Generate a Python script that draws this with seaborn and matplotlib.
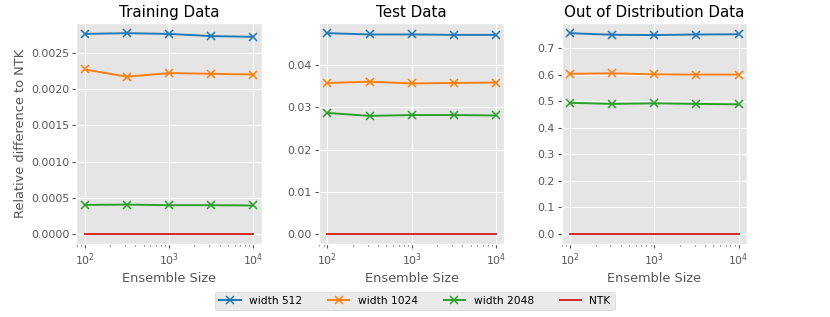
import pandas as pd
import seaborn as sns
import matplotlib.pyplot as plt
from matplotlib.ticker import MultipleLocator

# ensemble sizes (log spaced)
ensemble_sizes = [100, 316, 1000, 3162, 10000]
series_names = ['width 512', 'width 1024', 'width 2048', 'NTK']

# relative difference to NTK
train_512 = [0.00276, 0.00277, 0.00276, 0.00273, 0.00272]
train_1024 = [0.00227, 0.00217, 0.00222, 0.00221, 0.00220]
train_2048 = [0.000402, 0.000406, 0.000398, 0.000398, 0.000394]

test_512 = [0.0476, 0.0473, 0.0473, 0.0472, 0.0472]
test_1024 = [0.0358, 0.0361, 0.0357, 0.0358, 0.0359]
test_2048 = [0.0287, 0.0280, 0.0282, 0.0282, 0.0281]

ood_512 = [0.756, 0.750, 0.749, 0.751, 0.752]
ood_1024 = [0.603, 0.605, 0.601, 0.600, 0.600]
ood_2048 = [0.494, 0.490, 0.492, 0.490, 0.488]

ntk = [0.0, 0.0, 0.0, 0.0, 0.0]

panels = [
    ('Training Data', [train_512, train_1024, train_2048, ntk], None),
    ('Test Data', [test_512, test_1024, test_2048, ntk], 0.01),
    ('Out of Distribution Data', [ood_512, ood_1024, ood_2048, ntk], 0.1),
]


def to_long(values):
    rows = []
    for name, vals in zip(series_names, values):
        for n, v in zip(ensemble_sizes, vals):
            rows.append({'Ensemble Size': n, 'value': v, 'series': name})
    return pd.DataFrame(rows)


plt.style.use('ggplot')
palette = dict(zip(series_names, sns.color_palette('tab10', 4)))

fig, axes = plt.subplots(1, 3, figsize=(8.3, 3.17), dpi=100)
fig.subplots_adjust(left=0.092, right=0.9, top=0.927, bottom=0.23, wspace=0.31)

for ax, (title, values, step) in zip(axes, panels):
    df = to_long(values)
    sns.lineplot(data=df, x='Ensemble Size', y='value', hue='series',
                 palette=palette, ax=ax, legend=False, lw=1.4)
    for name in series_names[:3]:
        sub = df[df['series'] == name]
        ax.plot(sub['Ensemble Size'], sub['value'], ls='none', marker='x',
                ms=5.5, mew=1.1, color=palette[name])
    ax.set_xscale('log')
    if step:
        ax.yaxis.set_major_locator(MultipleLocator(step))
    ax.set_title(title, color='black', fontsize=10.9, pad=4.5)
    ax.set_xlabel('Ensemble Size', fontsize=9.3, labelpad=3)
    ax.set_ylabel('')
    ax.tick_params(labelsize=7.8, pad=2.6, length=2.6, width=0.8)
    ax.tick_params(which='minor', length=1.5, width=0.6)

axes[0].set_ylabel('Relative difference to NTK', fontsize=9.3, labelpad=3)

handles = []
for name in series_names:
    mk = 'x' if name != 'NTK' else None
    h, = axes[0].plot([], [], color=palette[name], marker=mk, ms=5.5, mew=1.1, lw=1.4, label=name)
    handles.append(h)
fig.legend(handles=handles, labels=series_names, loc='lower center',
           bbox_to_anchor=(0.5, 0.005), ncol=4, fontsize=7.7, columnspacing=2.4)

fig.savefig('out.png', dpi=100)
